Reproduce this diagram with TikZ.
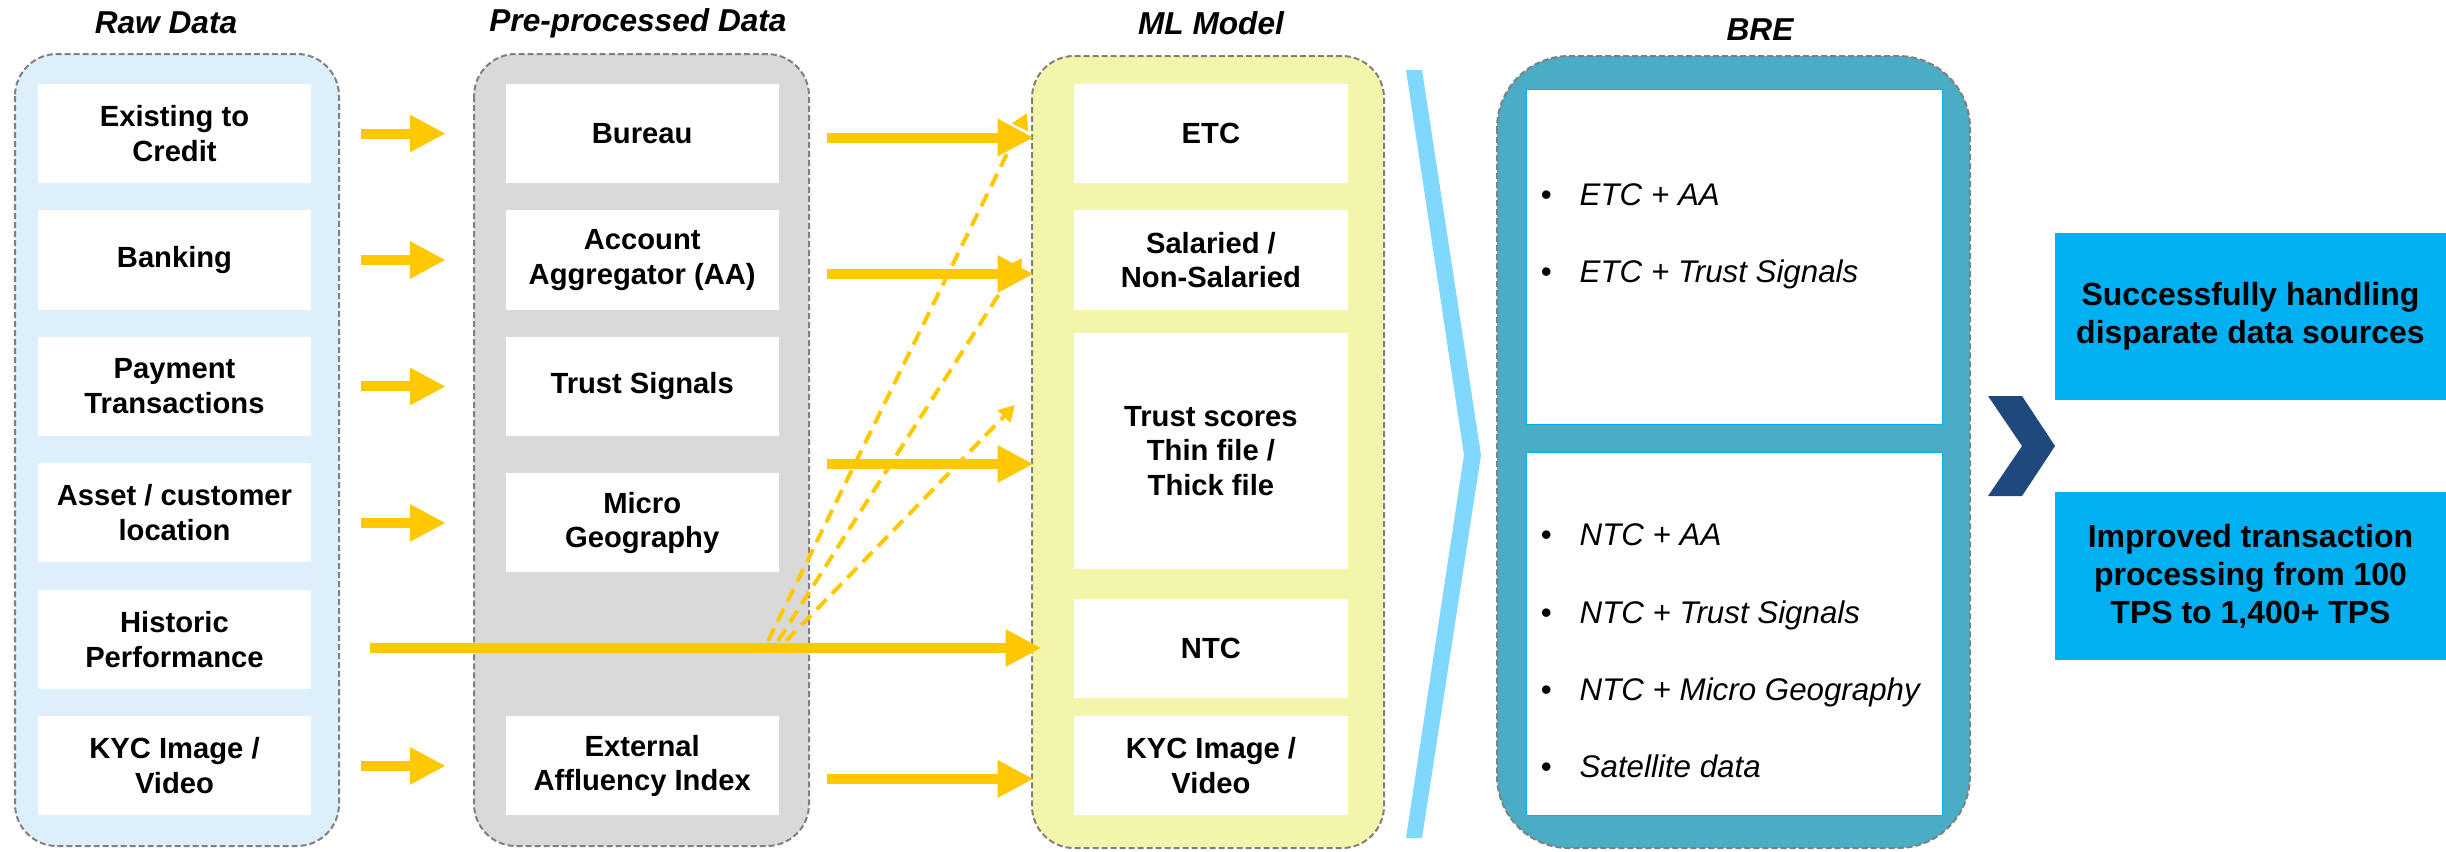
\documentclass[tikz,border=0pt]{standalone}
\usepackage{fontspec}
\setmainfont{Liberation Sans}
\usetikzlibrary{positioning,arrows.meta}
\definecolor{rawbg}{HTML}{DEEFFC}
\definecolor{prebg}{HTML}{D9D9D9}
\definecolor{mlbg}{HTML}{F3F6AA}
\definecolor{brebg}{HTML}{4BACC6}
\definecolor{chevlight}{HTML}{80D8FF}
\definecolor{navy}{HTML}{1F497D}
\definecolor{gold}{HTML}{FFC800}
\definecolor{outblue}{HTML}{00B0F0}
\begin{document}
\begin{tikzpicture}[x=0.01cm,y=-0.01cm,
  panel/.style={draw=gray,line width=0.02cm,dash pattern=on 0.06cm off 0.03cm,rounded corners=0.42cm},
  item/.style={fill=white,minimum width=2.73cm,minimum height=0.99cm,inner sep=0pt,align=center,font=\bfseries\fontsize{8.3}{9.9}\selectfont},
  head/.style={font=\bfseries\itshape\fontsize{9}{11}\selectfont},
  brebox/.style={fill=white,draw=outblue,line width=0.01cm,inner sep=0pt,minimum width=4.15cm},
  rule/.style={anchor=base west,inner sep=0pt,font=\itshape\fontsize{8.9}{10}\selectfont},
  outcome/.style={fill=outblue,minimum width=3.91cm,minimum height=1.67cm,inner sep=0pt,align=center,font=\bfseries\fontsize{9.1}{10.8}\selectfont},
  flow/.style={draw=gold,line width=0.1cm,-{Triangle[length=0.36cm,width=0.35cm]}},
  flowl/.style={flow,shorten <=0.49cm,shorten >=0.59cm},
  flowr/.style={flow,shorten <=0.48cm,shorten >=0.4cm},
  hint/.style={draw=gold,line width=0.04cm,dash pattern=on 0.14cm off 0.08cm,-{Triangle[length=0.16cm,width=0.17cm]}}]
\useasboundingbox (0,0) rectangle (2446,851);

\draw[panel,fill=rawbg] (15,54) rectangle (339,846);
\draw[panel,fill=prebg] (474,54) rectangle (809,846);
\draw[panel,fill=mlbg] (1032,56) rectangle (1384,848);
\draw[panel,fill=brebg,rounded corners=0.72cm] (1497,56) rectangle (1970,848);

\node[head] (rawtitle) at (166,23) {Raw Data};
\node[head] (pretitle) at (638,23) {Pre-processed Data};
\node[head] (mltitle) at (1211,23) {ML Model};
\node[head] (bretitle) at (1760,30) {BRE};

\node[item] (credit) at (174.5,133.5) {Existing to\\Credit};
\node[item,below=0.26cm of credit] (banking) {Banking};
\node[item,below=0.26cm of banking] (payment) {Payment\\Transactions};
\node[item,below=0.26cm of payment] (asset) {Asset / customer\\location};
\node[item,below=0.26cm of asset] (historic) {Historic\\Performance};
\node[item,below=0.26cm of historic] (kycraw) {KYC Image /\\Video};

\node[item,right=1.93cm of credit] (bureau) {Bureau};
\node[item,right=1.93cm of banking] (aa) {Account\\Aggregator (AA)};
\node[item,right=1.93cm of payment] (trust) {Trust Signals};
\node[item,below=0.36cm of trust] (micro) {Micro\\Geography};
\node[item,right=1.93cm of kycraw] (affluency) {External\\Affluency Index};

\node[item,right=2.94cm of bureau] (etc) {ETC};
\node[item,right=2.94cm of aa] (salaried) {Salaried /\\Non-Salaried};
\node[item,below=0.22cm of salaried,minimum height=2.36cm] (scores) {Trust scores\\Thin file /\\Thick file};
\node[item,below=0.28cm of scores] (ntc) {NTC};
\node[item,right=2.94cm of affluency] (kycml) {KYC Image /\\Video};

\node[brebox,minimum height=3.34cm] (etcbox) at (1734.5,257) {};
\node[brebox,below=0.27cm of etcbox,minimum height=3.63cm] (ntcbox) {};
\foreach \y/\t [count=\i] in {205/ETC + AA,282/ETC + Trust Signals,545/NTC + AA,623/NTC + Trust Signals,700/NTC + Micro Geography,777/Satellite data}
  \node[rule] (rule\i) at (1540,\y) {\makebox[0.39cm][l]{\textbullet}\t};

\fill[chevlight] (1406,70) -- (1422,70) -- (1481,455) -- (1422,838) -- (1406,838) -- (1464,455) -- cycle;
\fill[navy] (1988,396) -- (2022,396) -- (2055,446) -- (2022,496) -- (1988,496) -- (2022,446) -- cycle;

\node[outcome] (handling) at (2250.5,316.5) {Successfully handling\\disparate data sources};
\node[outcome] (tps) at (2250.5,576) {Improved transaction\\processing from 100\\TPS to 1,400+ TPS};

\foreach \a/\b in {credit/bureau,banking/aa,payment/trust,kycraw/affluency}
  \draw[flowl] (\a) -- (\b);
\draw[flowl] (micro.west -| asset.east) -- (micro.west);

\draw[flowr] ([yshift=-0.04cm]bureau.east) -- ([yshift=-0.04cm]etc.west);
\draw[flowr] ([yshift=-0.14cm]aa.east) -- ([yshift=-0.14cm]salaried.west);
\draw[flowr] ([yshift=-0.13cm]scores.west -| trust.east) -- ([yshift=-0.13cm]scores.west);
\draw[flowr] ([yshift=-0.13cm]affluency.east) -- ([yshift=-0.13cm]kycml.west);
\draw[flow,shorten <=0.58cm,shorten >=0.32cm] (ntc.west -| historic.east) -- (ntc.west);

\coordinate (h1) at (768,641);
\coordinate (h2) at (778,641);
\coordinate (h3) at (786,641);
\coordinate (t1) at (1027,113);
\coordinate (t2) at (1022,258);
\coordinate (t3) at (1015,405);
\foreach \i in {1,2,3}
  \draw[hint] (h\i) -- (t\i);
\end{tikzpicture}
\end{document}
